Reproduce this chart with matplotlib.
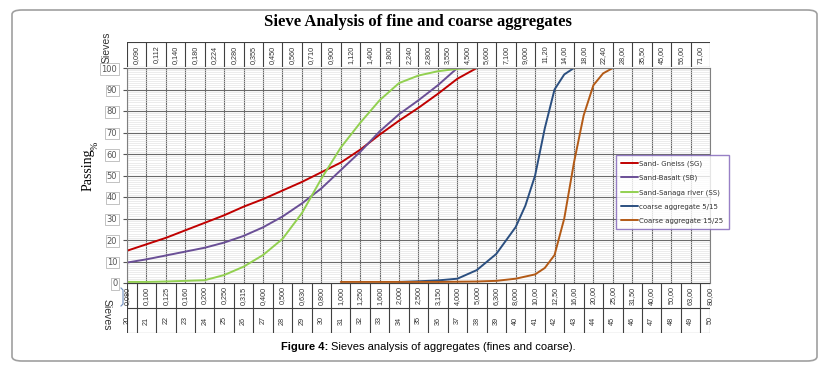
import numpy as np
import matplotlib
matplotlib.use('Agg')
import matplotlib.pyplot as plt
from matplotlib.patches import FancyBboxPatch
from matplotlib.lines import Line2D

# sieve "module" numbers along the x axis, with the sieve openings (mm)
modules = list(range(20, 51))
sieve_bottom = ['0,080', '0,100', '0,125', '0,160', '0,200', '0,250', '0,315', '0,400', '0,500',
                '0,630', '0,800', '1,000', '1,250', '1,600', '2,000', '2,500', '3,150', '4,000',
                '5,000', '6,300', '8,000', '10,00', '12,50', '16,00', '20,00', '25,00', '31,50',
                '40,00', '50,00', '63,00', '80,00']
sieve_top = ['0,090', '0,112', '0,140', '0,180', '0,224', '0,280', '0,355', '0,450', '0,560',
             '0,710', '0,900', '1,120', '1,400', '1,800', '2,240', '2,800', '3,550', '4,500',
             '5,600', '7,100', '9,000', '11,20', '14,00', '18,00', '22,40', '28,00', '35,50',
             '45,00', '56,00', '71,00']

# passing (%) per series
gneiss_mod = list(range(20, 39))
gneiss = [15, 18, 21, 24.5, 28, 31.5, 35.5, 39, 43, 47, 51.5, 56, 62, 69, 75.5, 81.5, 88, 95, 100]

basalt_mod = list(range(20, 38))
basalt = [9.5, 11, 12.8, 14.6, 16.4, 18.8, 21.9, 25.9, 30.9, 37, 44, 52.5, 61, 70.5, 78.5, 85, 92, 100]

sanaga_mod = list(range(20, 51))
sanaga = [0.5, 0.5, 0.7, 1, 1.3, 3.7, 7.6, 13, 20.5, 32.5, 48.5, 63, 74.5, 85, 93, 96.5, 98.5,
          99.6, 100, 100, 100, 100, 100, 100, 100, 100, 100, 100, 100, 100, 100]

c515_mod = [34, 35, 36, 37, 38, 39, 40, 40.5, 41, 41.5, 42, 42.5, 43]
c515 = [0.5, 0.8, 1.2, 2, 6, 13.5, 26, 36, 50, 72, 90, 97, 100]

c1525_mod = [31, 32, 33, 34, 35, 36, 37, 38, 39, 40, 41, 41.5, 42, 42.5, 43, 43.5, 44, 44.5, 45]
c1525 = [0.5, 0.5, 0.5, 0.5, 0.5, 0.5, 0.6, 0.7, 1, 2, 4, 7, 13, 30, 56, 78, 92, 97.5, 100]

series = [
    ('Sand- Gneiss (SG)', gneiss_mod, gneiss, '#c00000'),
    ('Sand-Basalt (SB)', basalt_mod, basalt, '#6a4f96'),
    ('Sand-Sanaga river (SS)', sanaga_mod, sanaga, '#92d050'),
    ('coarse aggregate 5/15', c515_mod, c515, '#2b4f80'),
    ('Coarse aggregate 15/25', c1525_mod, c1525, '#b35a16'),
]

W, H = 829, 372
fig = plt.figure(figsize=(W / 100, H / 100), dpi=100)


def fbox(x0, y0, x1, y1):
    """pixel box (top-left origin) -> figure fraction rect"""
    return [x0 / W, 1 - y1 / H, (x1 - x0) / W, (y1 - y0) / H]


# outer rounded frame
fig.patches.append(FancyBboxPatch((12 / W, 1 - 361 / H), 805 / W, 351 / H,
                                  boxstyle='round,pad=0,rounding_size=0.012',
                                  transform=fig.transFigure, fc='none', ec='#a0a0a0', lw=1.2))

ax = fig.add_axes(fbox(127, 68, 710, 283))
ax.set_xlim(20, 50)
ax.set_ylim(0, 100)
ax.set_yticks(np.arange(0, 101, 10))
ax.set_yticks(np.arange(0, 101, 1), minor=True)
ax.set_xticks(modules)
ax.tick_params(axis='x', bottom=False, labelbottom=False)
ax.tick_params(axis='y', which='major', labelsize=6, length=3, pad=4, colors='#555555')
ax.tick_params(axis='y', which='minor', length=0)
for lab in ax.get_yticklabels():
    lab.set_bbox(dict(boxstyle='square,pad=0.15', fc='white', ec='#aaaaaa', lw=0.5))
ax.grid(which='minor', axis='y', color='#e2e2e2', lw=0.45)
ax.grid(which='major', axis='y', color='#6a6a6a', lw=0.8)
ax.grid(which='major', axis='x', color='#6a6a6a', lw=0.8)
for s in ax.spines.values():
    s.set_color('#808080')
    s.set_linewidth(0.8)
ax.set_axisbelow(True)

for name, xm, yv, col in series:
    ax.plot(xm, yv, color=col, lw=1.4, label=name, solid_capstyle='round')

# top strip of sieve sizes
top = fig.add_axes(fbox(127, 42, 710, 67))
top.set_xlim(20, 50)
top.set_ylim(0, 1)
top.axis('off')
for m in modules:
    top.axvline(m, color='#404040', lw=0.8)
top.axhline(0, color='#404040', lw=0.8)
top.axhline(1, color='#404040', lw=0.8)
for i, lab in enumerate(sieve_top):
    top.text(modules[i] + 0.5, 0.5, lab, rotation=90, ha='center', va='center',
             fontsize=5.2, color='#333333', family='Liberation Sans')

# bottom strips: sieve sizes and module numbers
bot = fig.add_axes(fbox(127, 283, 710, 333))
bot.set_xlim(20, 50)
bot.set_ylim(0, 2)
bot.axis('off')
for y in (0, 1, 2):
    bot.axhline(y, color='#404040', lw=0.8)
for m in [20] + [v + 0.5 for v in modules[:-1]] + [50]:
    bot.axvline(m, color='#404040', lw=0.8)
for m, s_lab in zip(modules, sieve_bottom):
    bot.text(m, 1.5, s_lab, rotation=90, ha='center', va='center',
             fontsize=5.2, color='#333333', family='Liberation Sans')
    bot.text(m, 0.5, str(m), rotation=90, ha='center', va='center',
             fontsize=5.2, color='#333333', family='Liberation Sans')

# texts
fig.text(418 / W, 1 - 22 / H, 'Sieve Analysis of fine and coarse aggregates', ha='center',
         va='center', fontsize=12, fontweight='bold', family='Liberation Serif')
fig.text(88 / W, 1 - 170 / H, 'Passing', rotation=90, ha='center', va='center',
         fontsize=10, family='Liberation Serif')
fig.text(95 / W, 1 - 146 / H, '%', rotation=90, ha='center', va='center',
         fontsize=7, family='Liberation Serif')
fig.text(107 / W, 1 - 47 / H, 'Sieves', rotation=90, ha='center', va='center',
         fontsize=7.5, color='#333333', family='Liberation Sans')
fig.text(107 / W, 1 - 315 / H, 'Sieves', rotation=270, ha='center', va='center',
         fontsize=7.5, color='#333333', family='Liberation Sans')
fig.lines.append(Line2D([121 / W, 123 / W, 123 / W, 121 / W], [1 - 288 / H, 1 - 290 / H, 1 - 304 / H, 1 - 306 / H],
                        transform=fig.transFigure, color='#6f8fc0', lw=0.8))

fig.text(328 / W, 1 - 347 / H, 'Figure 4:', ha='right', va='center', fontsize=8,
         fontweight='bold', family='Liberation Sans')
fig.text(331 / W, 1 - 347 / H, 'Sieves analysis of aggregates (fines and coarse).', ha='left',
         va='center', fontsize=8, family='Liberation Sans')

leg = fig.legend(loc='upper left', bbox_to_anchor=(616 / W, 1 - 155 / H), fontsize=5.0,
                 frameon=True, fancybox=False, handlelength=2.4, handletextpad=0.2,
                 labelspacing=1.15, borderpad=0.75, borderaxespad=0)
leg.get_frame().set_edgecolor('#7e60b8')
leg.get_frame().set_linewidth(1.0)
for t in leg.get_texts():
    t.set_color('#333333')

fig.savefig('out.png', dpi=100)
